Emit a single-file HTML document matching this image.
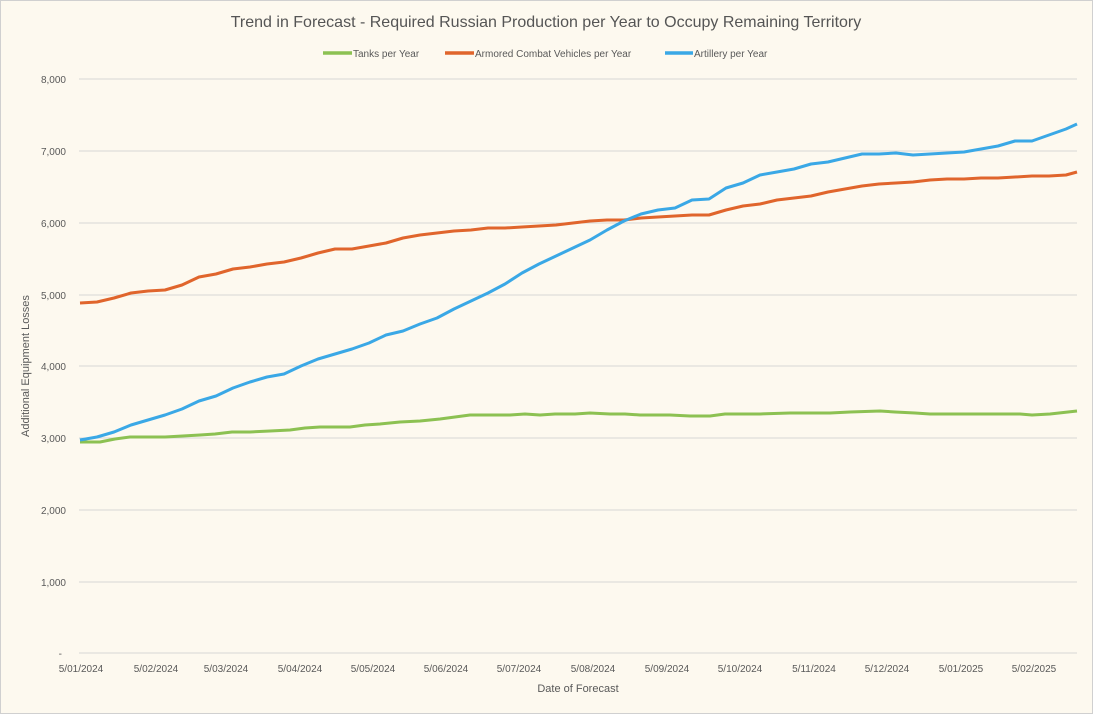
<!DOCTYPE html>
<html><head><meta charset="utf-8"><style>
body{margin:0;background:#fff}
svg{display:block;font-family:"Liberation Sans",sans-serif}
</style></head><body>
<svg width="1093" height="714" viewBox="0 0 1093 714">
<rect x="0.5" y="0.5" width="1092" height="713" fill="#fdf9ef" stroke="#d0d0d0"/>
<text x="546" y="27" text-anchor="middle" font-size="16" fill="#555">Trend in Forecast - Required Russian Production per Year to Occupy Remaining Territory</text>
<g font-size="10" fill="#595959">
<line x1="323" y1="53" x2="352" y2="53" stroke="#8cc152" stroke-width="3.5"/><text x="353" y="57">Tanks per Year</text>
<line x1="445" y1="53" x2="474" y2="53" stroke="#e0652c" stroke-width="3.5"/><text x="475" y="57">Armored Combat Vehicles per Year</text>
<line x1="665" y1="53" x2="693" y2="53" stroke="#3aa8e6" stroke-width="3.5"/><text x="694" y="57">Artillery per Year</text>
</g>
<g stroke="#d6d6d6" stroke-width="1">
<line x1="79" y1="79" x2="1077" y2="79"/><line x1="79" y1="151" x2="1077" y2="151"/><line x1="79" y1="223" x2="1077" y2="223"/><line x1="79" y1="295" x2="1077" y2="295"/><line x1="79" y1="366" x2="1077" y2="366"/><line x1="79" y1="438" x2="1077" y2="438"/><line x1="79" y1="510" x2="1077" y2="510"/><line x1="79" y1="582" x2="1077" y2="582"/><line x1="79" y1="653" x2="1077" y2="653"/>
</g>
<g font-size="10" fill="#595959" text-anchor="end">
<text x="66" y="83">8,000</text><text x="66" y="155">7,000</text><text x="66" y="227">6,000</text><text x="66" y="299">5,000</text><text x="66" y="370">4,000</text><text x="66" y="442">3,000</text><text x="66" y="514">2,000</text><text x="66" y="586">1,000</text><text x="62" y="657">-</text>
</g>
<g font-size="10" fill="#595959" text-anchor="middle">
<text x="81" y="672">5/01/2024</text><text x="156" y="672">5/02/2024</text><text x="226" y="672">5/03/2024</text><text x="300" y="672">5/04/2024</text><text x="373" y="672">5/05/2024</text><text x="446" y="672">5/06/2024</text><text x="519" y="672">5/07/2024</text><text x="593" y="672">5/08/2024</text><text x="667" y="672">5/09/2024</text><text x="740" y="672">5/10/2024</text><text x="814" y="672">5/11/2024</text><text x="887" y="672">5/12/2024</text><text x="961" y="672">5/01/2025</text><text x="1034" y="672">5/02/2025</text>
</g>
<text x="578" y="692" text-anchor="middle" font-size="11" fill="#595959">Date of Forecast</text>
<text transform="translate(29,366) rotate(-90)" text-anchor="middle" font-size="11" fill="#595959">Additional Equipment Losses</text>
<g fill="none" stroke-width="3" stroke-linejoin="round">
<polyline stroke="#8cc152" points="80,442 100,442 115,439 130,437 165,437 200,435 215,434 232,432 250,432 270,431 290,430 305,428 320,427 350,427 365,425 380,424 400,422 420,421 440,419 455,417 470,415 510,415 525,414 540,415 555,414 575,414 590,413 610,414 625,414 640,415 670,415 690,416 710,416 725,414 760,414 790,413 830,413 850,412 880,411 895,412 915,413 930,414 980,414 1020,414 1032,415 1050,414 1077,411"/>
<polyline stroke="#e0652c" points="80,303 97,302 114,298 131,293 148,291 165,290 182,285 199,277 216,274 233,269 250,267 267,264 284,262 301,258 318,253 335,249 352,249 369,246 386,243 403,238 420,235 437,233 454,231 471,230 488,228 505,228 522,227 539,226 556,225 573,223 590,221 607,220 624,220 641,218 658,217 675,216 692,215 709,215 726,210 743,206 760,204 777,200 794,198 811,196 828,192 845,189 862,186 879,184 896,183 913,182 930,180 947,179 964,179 981,178 998,178 1015,177 1032,176 1049,176 1066,175 1077,172"/>
<polyline stroke="#3aa8e6" points="80,440 97,437 114,432 131,425 148,420 165,415 182,409 199,401 216,396 233,388 250,382 267,377 284,374 301,366 318,359 335,354 352,349 369,343 386,335 403,331 420,324 437,318 454,309 471,301 488,293 505,284 522,273 539,264 556,256 573,248 590,240 607,230 624,221 641,214 658,210 675,208 692,200 709,199 726,188 743,183 760,175 777,172 794,169 811,164 828,162 845,158 862,154 879,154 896,153 913,155 930,154 947,153 964,152 981,149 998,146 1015,141 1032,141 1049,135 1066,129 1077,124"/>
</g>
</svg>
</body></html>
